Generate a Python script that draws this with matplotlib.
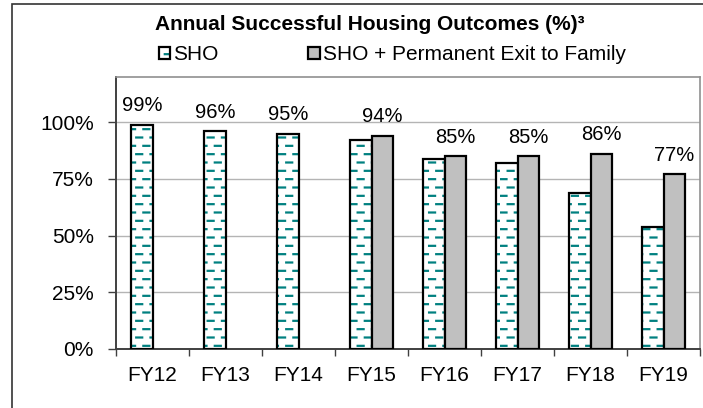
import warnings
import numpy as np
import matplotlib
matplotlib.use("Agg")
import matplotlib.pyplot as plt
import matplotlib.patches as mpatches
from matplotlib import hatch as mhatch
from matplotlib.path import Path
from matplotlib.legend_handler import HandlerTuple

warnings.filterwarnings("ignore")

# dados
anos = ["FY12", "FY13", "FY14", "FY15", "FY16", "FY17", "FY18", "FY19"]
sho = [99, 96, 95, 92, 84, 82, 69, 54]
sho_familia = [np.nan, np.nan, np.nan, 94, 85, 85, 86, 77]
# qual barra recebe o rótulo (0 = SHO, 1 = SHO + família)
rotulo_serie = [0, 0, 0, 1, 1, 1, 1, 1]

titulo = "Annual Successful Housing Outcomes (%)\u00b3"
nomes = ["SHO", "SHO + Permanent Exit to Family"]

TEAL = "#008080"
CINZA = "#c0c0c0"
FONTE_NARROW = ["Liberation Sans Narrow", "Liberation Sans", "DejaVu Sans"]


# hachura de tracinhos desencontrados (estilo Excel)
class TracoHatch(mhatch.HatchPatternBase):
    def __init__(self, hatch, density):
        self.linhas = 12 * hatch.count("_")
        self.colunas = 7
        self.num_vertices = self.linhas * self.colunas * 2

    def set_vertices_and_codes(self, vertices, codes):
        L = 0.06
        i = 0
        for r in range(self.linhas):
            y = (r + 0.5) / self.linhas
            desloc = 0.5 if r % 2 else 0.0
            for c in range(self.colunas):
                x0 = (c + desloc) / self.colunas + 0.005
                vertices[i] = (x0, y)
                vertices[i + 1] = (x0 + L, y)
                codes[i] = Path.MOVETO
                codes[i + 1] = Path.LINETO
                i += 2


mhatch._hatch_types.append(TracoHatch)
plt.rcParams["hatch.linewidth"] = 1.6
plt.rcParams["font.family"] = ["Liberation Sans", "DejaVu Sans"]

fig = plt.figure(figsize=(7.03, 4.08), dpi=100)
ax = fig.add_axes([116 / 703, 59 / 408, 584 / 703, 272 / 408])

x = np.arange(len(anos))
w = 0.288

# SHO: hachura teal + contorno preto
ax.bar(x - w / 2, sho, w, facecolor="white", edgecolor=TEAL, hatch="_", linewidth=0, zorder=3)
ax.bar(x - w / 2, sho, w, facecolor="none", edgecolor="black", linewidth=1.6, zorder=4)
ax.bar(x + w / 2, sho_familia, w, facecolor=CINZA, edgecolor="black", linewidth=1.6, zorder=4)

# rótulos
for i in range(len(anos)):
    if rotulo_serie[i] == 0:
        v, xc = sho[i], x[i] - w / 2
    else:
        v, xc = sho_familia[i], x[i] + w / 2
    ax.annotate(f"{v:.0f}%", (xc, v), xytext=(0, 7), textcoords="offset points",
                ha="center", va="bottom", fontsize=14.5, zorder=5)

ax.set_xlim(-0.5, len(anos) - 0.5)
ax.set_ylim(0, 120)
ax.set_yticks([0, 25, 50, 75, 100])
ax.set_yticklabels([f"{t}%" for t in [0, 25, 50, 75, 100]], fontsize=15)
ax.set_xticks(x)
ax.set_xticklabels(anos, fontsize=15)
ax.set_xticks(np.arange(-0.5, len(anos)), minor=True)
ax.tick_params(axis="x", which="major", length=0, pad=12)
ax.tick_params(axis="x", which="minor", length=5, width=1, color="#404040", direction="out")
ax.tick_params(axis="y", length=6, width=1, color="#404040", pad=10)

ax.grid(axis="y", color="#b4b4b4", linewidth=1, zorder=0)
ax.set_axisbelow(True)
for lado in ["top", "right"]:
    ax.spines[lado].set_color("#909090")
    ax.spines[lado].set_linewidth(1.2)
for lado in ["left", "bottom"]:
    ax.spines[lado].set_color("#404040")
    ax.spines[lado].set_linewidth(1.4)

# moldura externa do gráfico
fig.patches.append(mpatches.Rectangle((12 / 703, -0.1), 1.2, 0.1 + 404 / 408,
                                      transform=fig.transFigure, fill=False,
                                      edgecolor="#333333", linewidth=1.2))

fig.text(0.5256, 0.940, titulo, ha="center", va="center", fontsize=15,
         fontweight="bold", family=FONTE_NARROW)

h_sho = (mpatches.Patch(facecolor="white", edgecolor=TEAL, hatch="_", linewidth=0),
         mpatches.Patch(facecolor="none", edgecolor="black", linewidth=1.6))
h_fam = mpatches.Patch(facecolor=CINZA, edgecolor="black", linewidth=1.6)
fig.legend([h_sho, h_fam], nomes, loc="center", bbox_to_anchor=(0.5577, 0.866),
           ncol=2, frameon=False, handlelength=0.55, handleheight=0.55,
           handletextpad=0.15, columnspacing=4.3,
           handler_map={tuple: HandlerTuple(ndivide=1)},
           prop={"family": FONTE_NARROW, "size": 15})

fig.savefig("out.png", dpi=100)
